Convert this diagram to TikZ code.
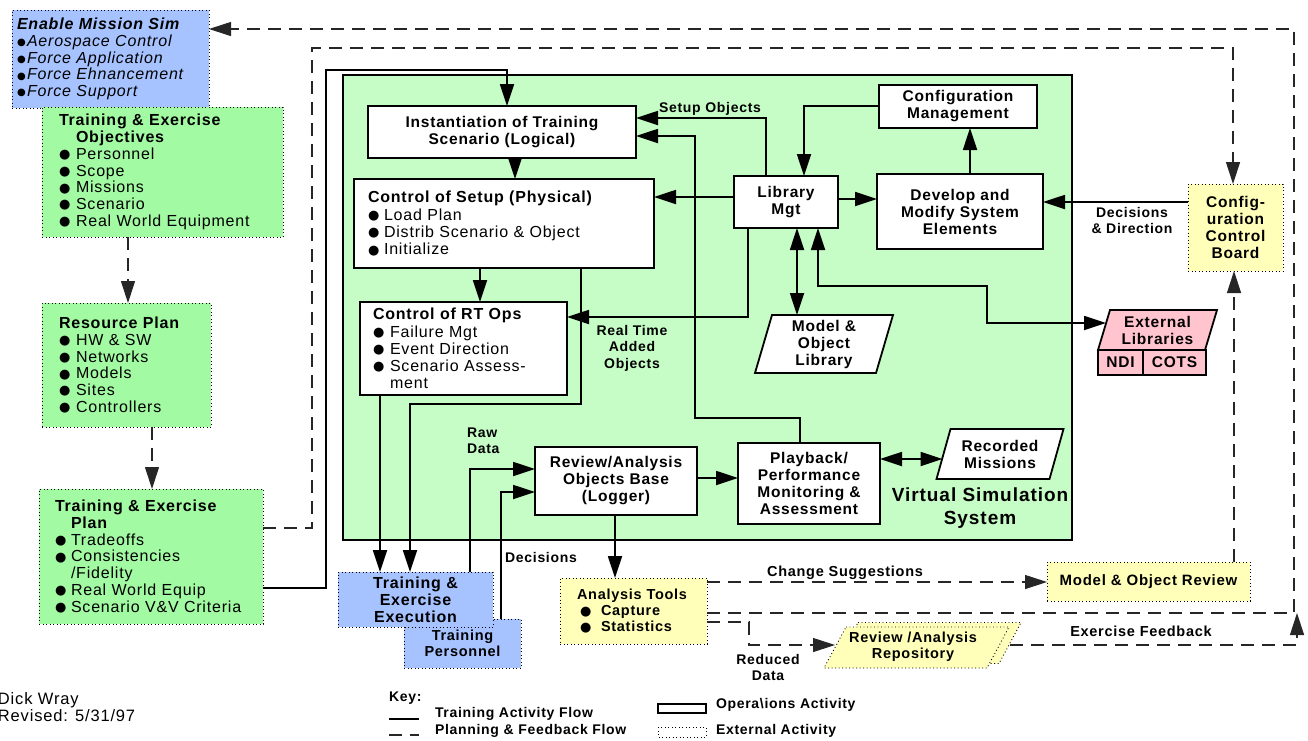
\documentclass[tikz,border=0pt]{standalone}
\usepackage{fontspec}
\setmainfont{Liberation Sans}[LetterSpace=5]
\newfontfamily\dvsans{DejaVu Sans}
\usetikzlibrary{arrows.meta}

\definecolor{extblue}{RGB}{166,195,255}
\definecolor{plangreen}{RGB}{162,250,162}
\definecolor{simgreen}{RGB}{198,252,198}
\definecolor{revyellow}{RGB}{255,255,186}
\definecolor{libpink}{RGB}{255,196,206}

% list bullets
\newcommand\dotb{\raisebox{0.8pt}{\dvsans\fontsize{13}{13}\selectfont ●}}
\newcommand\sdotb{\raisebox{0.8pt}{\dvsans\fontsize{10}{10}\selectfont ●}}
\newcommand\itm[2][17pt]{\makebox[#1][l]{\dotb}#2}
\newcommand\emi[1]{\makebox[10pt][l]{\sdotb}#1}

\tikzset{
  every node/.style={inner sep=0pt, outer sep=0pt},
  extbox/.style={draw, line width=0.9pt, dash pattern=on 0.9pt off 2.6pt},
  opbox/.style={draw, line width=1.8pt, fill=white},
  boldtxt/.style={font=\bfseries\fontsize{15.5}{17}\selectfont},
  lbl/.style={font=\bfseries\fontsize{14}{16}\selectfont, align=center},
  keytxt/.style={font=\bfseries\fontsize{14}{16}\selectfont, anchor=west},
  flow/.style={line width=1.8pt, ->},
  flowboth/.style={line width=1.8pt, <->},
  fb/.style={line width=1.1pt, black!85, dash pattern=on 13pt off 8pt, ->},
}

\begin{document}
\begin{tikzpicture}[x=1pt, y=-1pt, font=\fontsize{16}{16.8}\selectfont,
    >={Triangle[length=22pt,width=14pt]}]
\useasboundingbox (0,0) rectangle (1308,740);

% ---------- planning column ----------
\node[extbox, fill=extblue, anchor=north west, text width=187pt, inner xsep=5pt,
      minimum height=98pt, align=left, font=\itshape\fontsize{16}{16.8}\selectfont] (enable) at (12,10)
  {\textbf{Enable Mission Sim}\\\emi{Aerospace Control}\\\emi{Force Application}\\\emi{Force Ehnancement}\\\emi{Force Support}};

\node[extbox, fill=plangreen, anchor=north west, text width=207pt, inner xsep=17pt,
      minimum height=130pt, align=left] (obj) at (42,107)
  {\textbf{Training \& Exercise}\\\hspace*{17pt}\textbf{Objectives}\\\itm{Personnel}\\\itm{Scope}\\\itm{Missions}\\\itm{Scenario}\\\itm{Real World Equipment}};

\node[extbox, fill=plangreen, anchor=north west, text width=135pt, inner xsep=17pt,
      minimum height=124pt, align=left] (res) at (42,303)
  {\textbf{Resource Plan}\\\itm{HW \& SW}\\\itm{Networks}\\\itm{Models}\\\itm{Sites}\\\itm{Controllers}};

\node[extbox, fill=plangreen, anchor=north west, text width=192pt, inner xsep=16pt,
      minimum height=135pt, align=left] (plan) at (39,489)
  {\textbf{Training \& Exercise}\\\hspace*{16pt}\textbf{Plan}\\\itm[16pt]{Tradeoffs}\\\itm[16pt]{Consistencies}\\\hspace*{16pt}/Fidelity\\\itm[16pt]{Real World Equip}\\\itm[16pt]{Scenario V\&V Criteria}};

% ---------- virtual simulation system ----------
\node[draw, line width=1.8pt, fill=simgreen, anchor=north west,
      minimum width=729pt, minimum height=465pt] (sim) at (343,75) {};
\node[font=\bfseries\fontsize{19}{23}\selectfont, align=center] (simlbl) at (980,508) {Virtual Simulation\\System};

\node[opbox, boldtxt, anchor=north west, minimum width=268pt, minimum height=52pt, align=center] (inst) at (368,106)
  {Instantiation of Training\\Scenario (Logical)};

\node[opbox, anchor=north west, text width=272pt, inner xsep=14pt, minimum height=89pt, align=left,
      font=\fontsize{16}{17.3}\selectfont] (setup) at (354,179)
  {\textbf{Control of Setup (Physical)}\\\itm[16pt]{Load Plan}\\\itm[16pt]{Distrib Scenario \& Object}\\\itm[16pt]{Initialize}};

\node[opbox, anchor=north west, text width=181pt, inner xsep=13pt, minimum height=93pt, align=left,
      font=\fontsize{16}{17.2}\selectfont] (rtops) at (360,302)
  {\textbf{Control of RT Ops}\\\itm{Failure Mgt}\\\itm{Event Direction}\\\itm{Scenario Assess-}\\\hspace*{17pt}ment};

\node[opbox, boldtxt, anchor=north west, minimum width=104pt, minimum height=52pt, align=center] (lib) at (734,176) {Library\\Mgt};
\node[opbox, boldtxt, anchor=north west, minimum width=166pt, minimum height=75pt, align=center] (dev) at (877,174) {Develop and\\Modify System\\Elements};
\node[opbox, boldtxt, anchor=north west, minimum width=158pt, minimum height=43pt, align=center] (cfgm) at (879,85) {Configuration\\Management};
\node[opbox, boldtxt, anchor=north west, minimum width=162pt, minimum height=68pt, align=center] (rev) at (535,447) {Review/Analysis\\Objects Base\\(Logger)};
\node[opbox, boldtxt, anchor=north west, minimum width=142pt, minimum height=81pt, align=center] (play) at (738,443) {Playback/\\Performance\\Monitoring \&\\Assessment};

% model & object library (parallelogram)
\path node[minimum width=121pt, minimum height=58pt] (mol) at (824,344) {};
\filldraw[line width=1.8pt, fill=white] ([xshift=8.5pt]mol.north west) -- ([xshift=8.5pt]mol.north east)
  -- ([xshift=-8.5pt]mol.south east) -- ([xshift=-8.5pt]mol.south west) -- cycle;
\node[boldtxt, align=center] (moltxt) at (mol) {Model \&\\Object\\Library};

% recorded missions (parallelogram)
\path node[minimum width=113pt, minimum height=50pt] (recm) at (1000,454) {};
\filldraw[line width=1.8pt, fill=white] ([xshift=7pt]recm.north west) -- ([xshift=7pt]recm.north east)
  -- ([xshift=-7pt]recm.south east) -- ([xshift=-7pt]recm.south west) -- cycle;
\node[boldtxt, align=center] (recmtxt) at (recm) {Recorded\\Missions};

% ---------- external libraries ----------
\path node[minimum width=107pt, minimum height=40pt] (ext) at (1157.5,330) {};
\filldraw[line width=1.8pt, fill=libpink] ([xshift=6pt]ext.north west) -- ([xshift=6pt]ext.north east)
  -- ([xshift=-6pt]ext.south east) -- ([xshift=-6pt]ext.south west) -- cycle;
\node[boldtxt, align=center] (exttxt) at (ext) {External\\Libraries};
\node[draw, line width=1.8pt, fill=libpink, anchor=north west, minimum width=45pt, minimum height=25pt, boldtxt] (ndi) at (1098,350) {NDI};
\node[draw, line width=1.8pt, fill=libpink, anchor=north west, minimum width=63pt, minimum height=25pt, boldtxt] (cots) at (1143,350) {COTS};

% ---------- execution / review ----------
\node[extbox, fill=extblue, anchor=north west, minimum width=117pt, minimum height=49pt, align=center,
      font=\bfseries\fontsize{14.5}{15.5}\selectfont] (pers) at (404,619) {Training\\Personnel};
\node[extbox, fill=extblue, anchor=north west, minimum width=155pt, minimum height=55pt, align=center,
      font=\bfseries\fontsize{16}{17}\selectfont] (exe) at (338,572) {Training \&\\Exercise\\Execution};

\node[extbox, fill=revyellow, anchor=north west, text width=113pt, inner xsep=17pt, minimum height=66pt, align=left,
      font=\bfseries\fontsize{14.5}{16}\selectfont] (anat) at (560,578)
  {Analysis Tools\\\hspace*{3pt}\itm[21pt]{Capture}\\\hspace*{3pt}\itm[21pt]{Statistics}};

\node[extbox, fill=revyellow, anchor=north west, minimum width=203pt, minimum height=39pt,
      font=\bfseries\fontsize{15}{16}\selectfont] (mor) at (1047,562) {Model \& Object Review};

\node[extbox, fill=revyellow, anchor=north west, minimum width=95pt, minimum height=87pt, align=center,
      font=\bfseries\fontsize{15.5}{16.7}\selectfont] (ccb) at (1188,184) {Config-\\uration\\Control\\Board};

% review / analysis repository (stacked parallelograms)
\path node[minimum width=163pt, minimum height=41pt] (repob) at (928.5,643) {};
\filldraw[extbox, fill=revyellow] ([xshift=11pt]repob.north west) -- ([xshift=11pt]repob.north east)
  -- ([xshift=-11pt]repob.south east) -- ([xshift=-11pt]repob.south west) -- cycle;
\path node[minimum width=163pt, minimum height=41pt] (repo) at (916.5,647.5) {};
\filldraw[extbox, fill=revyellow] ([xshift=11pt]repo.north west) -- ([xshift=11pt]repo.north east)
  -- ([xshift=-11pt]repo.south east) -- ([xshift=-11pt]repo.south west) -- cycle;
\node[font=\bfseries\fontsize{14.5}{16}\selectfont, align=center] (repotxt) at (913,647) {Review /Analysis\\Repository};

% ---------- training activity flow ----------
\draw[flow] (plan.east |- 0,588) -| (326,70) -| (507,0 |- inst.north);
\draw[flow] (515,0 |- inst.south) -- (515,0 |- setup.north);
\draw[flow] (766,0 |- lib.north) |- (inst.east |- 0,118);
\draw[flow] (800,0 |- play.north) -- (800,418) -| (695,136) -- (inst.east |- 0,136);
\draw[flow] (lib.west |- 0,197) -- (setup.east |- 0,197);
\draw[flow] (lib.east |- 0,199) -- (dev.west |- 0,199);
\draw[flow] (970,0 |- dev.north) -- (970,0 |- cfgm.south);
\draw[flow] (cfgm.west |- 0,106) -| (804,0 |- lib.north);
\draw[flowboth] (797,0 |- lib.south) -- (797,0 |- mol.north);
\draw[flowboth] (818,0 |- lib.south) |- (987,286) |- ([xshift=2pt]ext.west |- 0,323);
\draw[flow] (748,0 |- lib.south) |- (rtops.east |- 0,317);
\draw[flow] (480,0 |- setup.south) -- (480,0 |- rtops.north);
\draw[flow] (581,0 |- setup.south) |- (410,404) -- (410,0 |- exe.north);
\draw[flow] (380,0 |- rtops.south) -- (380,0 |- exe.north);
\draw[flow] (470,0 |- exe.north) |- (rev.west |- 0,469);
\draw[flow] (501,0 |- pers.north) |- (rev.west |- 0,492);
\draw[flow] (rev.east |- 0,478) -- (play.west |- 0,478);
\draw[flowboth] (play.east |- 0,459) -- ([xshift=-1pt]recm.west |- 0,459);
\draw[flow] (615,0 |- rev.south) -- (615,0 |- anat.north);
\draw[flow] (ccb.west |- 0,202) -- (dev.east |- 0,202);

% ---------- planning & feedback flow ----------
\coordinate (fbk) at (1297,613);
\draw[fb] (128,0 |- obj.south) -- (128,0 |- res.north);
\draw[fb] (152,0 |- res.south) -- (152,0 |- plan.north);
\draw[fb] (plan.east |- 0,528) -| (312,48) -| (1233,0 |- ccb.north);
\draw[fb] (anat.east |- 0,582) -- (mor.west |- 0,582);
\draw[fb] (anat.east |- 0,613) -| (1294,29) -- (enable.east |- 0,29);
\draw[fb] (anat.east |- 0,622) -| (749,645) -- (repo.west |- 0,645);
\draw[fb] (repob.east |- 0,645) -| (fbk);
\draw[fb] (1234,0 |- mor.north) -- (1234,0 |- ccb.south);

% ---------- connector labels ----------
\node[lbl] (lsetup) at (710,109) {Setup Objects};
\node[lbl, font=\bfseries\fontsize{14}{16.5}\selectfont] (lrt) at (632,348) {Real Time\\Added\\Objects};
\node[lbl, align=left, anchor=west] (lraw) at (467,441) {Raw\\Data};
\node[lbl] (ldec) at (541,557) {Decisions};
\node[lbl] (ldd) at (1132,220) {Decisions\\\& Direction};
\node[lbl, font=\bfseries\fontsize{14.5}{16}\selectfont] (lchg) at (845,573) {Change Suggestions};
\node[lbl] (lred) at (768,667) {Reduced\\Data};
\node[lbl, font=\bfseries\fontsize{14.5}{16}\selectfont] (lfbk) at (1141,631) {Exercise Feedback};

% ---------- key ----------
\node[keytxt] (kkey) at (389,698) {Key:};
\node[keytxt] (ktaf) at (435,714) {Training Activity Flow};
\node[keytxt] (kpff) at (435,731) {Planning \& Feedback Flow};
\node[keytxt] (kops) at (716,705) {Opera\textbackslash ions Activity};
\node[keytxt] (kext) at (716,731) {External Activity};
\draw[line width=1.8pt] (389,719) -- (419,719);
\draw[line width=1.1pt, black!85, dash pattern=on 13pt off 8pt] (389,735) -- (419,735);
\draw[line width=1.8pt] (658,704) rectangle (706,713);
\draw[extbox] (658,727) rectangle (706,737);

% ---------- author ----------
\node[anchor=west, align=left, font=\fontsize{16.5}{17}\selectfont] (author) at (-2,707) {Dick Wray\\Revised: 5/31/97};
\end{tikzpicture}
\end{document}
